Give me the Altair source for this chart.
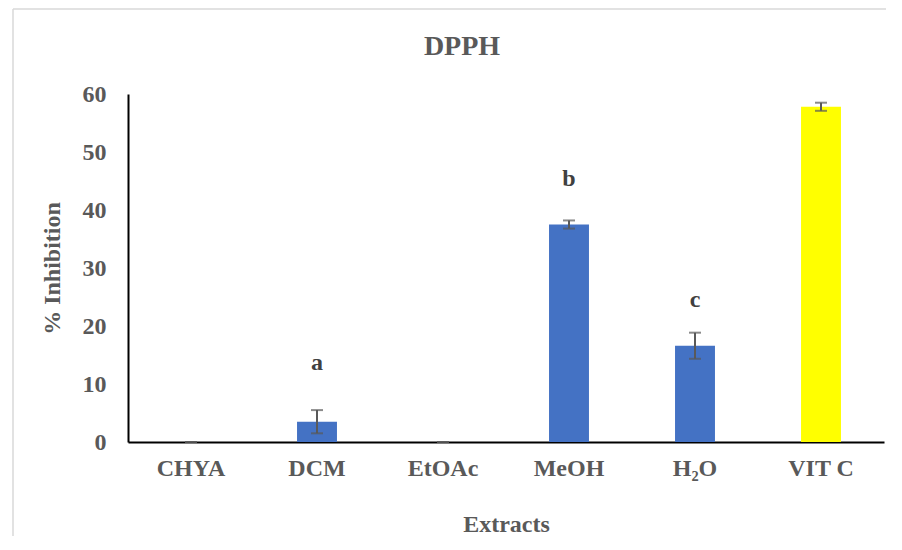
import altair as alt
import pandas as pd

extracts = ["CHYA", "DCM", "EtOAc", "MeOH", "H₂O", "VIT C"]
inhibition = [0.0, 3.5, 0.0, 37.5, 16.6, 57.8]
error = [0.0, 2.0, 0.0, 0.7, 2.25, 0.7]
letters = ["", "a", "", "b", "c", ""]
letter_y = [0, 13.6, 0, 45.3, 24.4, 0]
bar_colors = ["#4472C4", "#4472C4", "#4472C4", "#4472C4", "#4472C4", "#FFFF00"]
chart_title = ["DPPH"]

df = pd.DataFrame({
    "Extract": extracts,
    "Inhibition": inhibition,
    "lo": [v - e for v, e in zip(inhibition, error)],
    "hi": [v + e for v, e in zip(inhibition, error)],
    "Letter": letters,
    "LetterY": letter_y,
    "Color": bar_colors,
})

FONT = "Liberation Serif"
TXT = "#595959"
W, H = 756, 348

xenc = alt.X("Extract:N", sort=extracts, title="Extracts",
             scale=alt.Scale(paddingInner=0.683, paddingOuter=0.3415),
             axis=alt.Axis(labelAngle=0, ticks=False, tickSize=0, labelPadding=14,
                           labelFont=FONT, labelFontSize=24, labelFontWeight="bold",
                           labelColor=TXT, titleFont=FONT, titleFontSize=24,
                           titleFontWeight="bold", titleColor=TXT, titlePadding=32,
                           domainColor="#000000", domainWidth=2, grid=False))
yscale = alt.Scale(domain=[0, 60], nice=False)

base = alt.Chart(df)

bars = base.mark_bar().encode(
    x=xenc,
    y=alt.Y("Inhibition:Q", scale=yscale, title="% Inhibition",
            axis=alt.Axis(values=[0, 10, 20, 30, 40, 50, 60], ticks=False, tickSize=0,
                          labelPadding=22, labelFont=FONT, labelFontSize=24,
                          labelFontWeight="bold", labelColor=TXT, titleFont=FONT,
                          titleFontSize=24, titleFontWeight="bold", titleColor=TXT,
                          titlePadding=18, domainColor="#000000", domainWidth=2,
                          grid=False)),
    color=alt.Color("Color:N", scale=None),
)

rules = base.mark_rule(color="#595959", strokeWidth=2).encode(
    x=alt.X("Extract:N", sort=extracts),
    y=alt.Y("lo:Q", scale=yscale),
    y2="hi:Q",
)
cap_lo = base.mark_tick(color="#595959", thickness=2, size=12, orient="horizontal").encode(
    x=alt.X("Extract:N", sort=extracts),
    y=alt.Y("lo:Q", scale=yscale),
)
cap_hi = base.mark_tick(color="#595959", thickness=2, size=12, orient="horizontal").encode(
    x=alt.X("Extract:N", sort=extracts),
    y=alt.Y("hi:Q", scale=yscale),
)
labels = base.mark_text(font=FONT, fontSize=24, fontWeight="bold", color="#404040",
                        baseline="middle").encode(
    x=alt.X("Extract:N", sort=extracts),
    y=alt.Y("LetterY:Q", scale=yscale),
    text="Letter:N",
)

one = alt.Chart(pd.DataFrame({"t": chart_title}))
frame_top = one.mark_rule(stroke="#d9d9d9", strokeWidth=1.5, clip=False).encode(
    x=alt.value(-115), x2=alt.value(W + 2), y=alt.value(-85))
frame_left = one.mark_rule(stroke="#d9d9d9", strokeWidth=1.5, clip=False).encode(
    x=alt.value(-115), y=alt.value(-85), y2=alt.value(H + 94))
title = one.mark_text(font=FONT, fontSize=28, fontWeight="bold", color=TXT,
                      baseline="middle", clip=False).encode(
    x=alt.value(334), y=alt.value(-47), text="t:N")

chart = alt.layer(frame_top, frame_left, title, bars, rules, cap_lo, cap_hi, labels).properties(
    width=W, height=H,
    autosize=alt.AutoSizeParams(type="none"),
    padding={"left": 120, "top": 86, "right": 2, "bottom": 96},
).configure(background="white").configure_view(stroke=None)

chart.save("out.html", embed_options={"renderer": "svg", "actions": False})
